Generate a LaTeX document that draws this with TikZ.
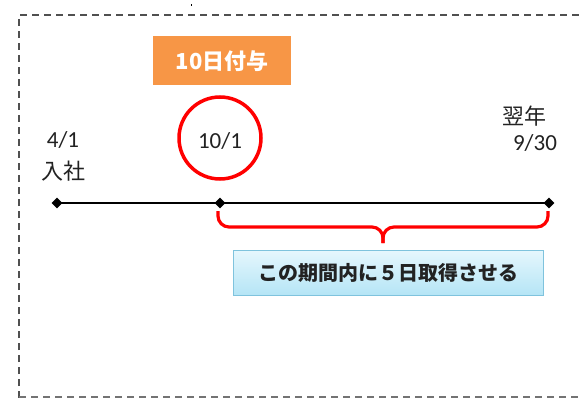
\documentclass[tikz,border=0pt]{standalone}
\usepackage{fontspec}
\setmainfont{Carlito}
\newfontfamily\jp{Noto Sans CJK JP}
\usetikzlibrary{shapes.geometric}
\definecolor{frameg}{HTML}{505050}
\definecolor{orangebox}{HTML}{F79646}
\definecolor{bluetop}{HTML}{E6F7FD}
\definecolor{bluebot}{HTML}{B5E5F6}
\definecolor{blueedge}{HTML}{7FC3DD}
\definecolor{txt}{HTML}{222222}
\tikzset{
  lbl/.style={inner sep=0pt, anchor=base, text=txt, font=\fontsize{23}{23}\selectfont},
  jlbl/.style={inner sep=0pt, anchor=base, text=txt, font=\jp\fontsize{22}{22}\selectfont},
  tick/.style={diamond, fill=black, inner sep=0pt, minimum width=11pt, minimum height=11pt},
  redline/.style={red, line width=3.2pt},
}
\begin{document}
\begin{tikzpicture}[x=1pt,y=-1pt]
\clip (0,0) rectangle (580,398);
\useasboundingbox (0,0) rectangle (580,398);
\fill[white] (0,0) rectangle (580,398);
% dashed frame
\draw[frameg, line width=2.3pt, dash pattern=on 7pt off 5pt] (19,398) -- (19,15) -- (590,15);
\draw[frameg!80, line width=2.3pt, dash pattern=on 7pt off 5pt] (19,397.5) -- (590,397.5);
\fill[black] (190.5,4.5) rectangle (192,6);
% orange label
\node[fill=orangebox, minimum width=138pt, minimum height=49pt, inner sep=0pt,
      text=white, font=\jp\bfseries\fontsize{22}{22}\selectfont] (grant) at (222,61) {10日付与};
% red circle
\node[circle, draw=red, line width=3.5pt, minimum size=82pt, inner sep=0pt] (ring) at (220,138) {};
% timeline
\node[tick] (d1) at (57,203) {};
\node[tick] (d2) at (220,203) {};
\node[tick] (d3) at (549,203) {};
\draw[line width=2.8pt] (d1.center) -- (d2.center) -- (d3.center);
% labels
\node[lbl] (l41) at (63,148) {4/1};
\node[jlbl] (lnyu) at (63,179) {入社};
\node[lbl] (l101) at (220,149) {10/1};
\node[jlbl] (lyoku) at (524,125) {翌年};
\node[lbl] (l930) at (535,150) {9/30};
% brace
\coordinate (bl) at (218,211);
\coordinate (br) at (548,211);
\coordinate (bm) at (383,227);
\coordinate (bt) at (383,243);
\draw[redline, rounded corners=11pt] (bl) |- (bm) -- (bt);
\draw[redline, rounded corners=11pt] (br) |- (bm) -- (bt);
% blue box
\node[draw=blueedge, line width=1pt, top color=bluetop, bottom color=bluebot,
      minimum width=310pt, minimum height=45pt, inner sep=0pt, text=txt,
      font=\jp\bfseries\fontsize{20}{20}\selectfont] (goal) at (388,272.5) {この期間内に５日取得させる};
\end{tikzpicture}
\end{document}
